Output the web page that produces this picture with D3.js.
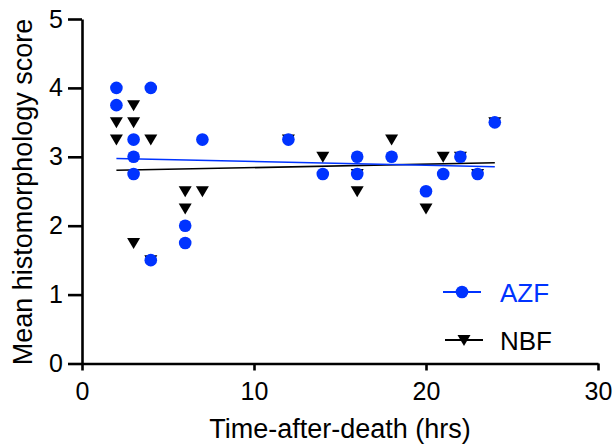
<!DOCTYPE html>
<html>
<head>
<meta charset="utf-8">
<script src="https://cdn.jsdelivr.net/npm/d3@7"></script>
<style>
  body { margin: 0; background: #fff; }
  svg { font-family: "Liberation Sans", Arial, sans-serif; }
</style>
</head>
<body>
<svg id="chart" width="614" height="446"></svg>
<script>
// Time after death (hrs) and mean score for each sample
const azfHours = [2, 2, 3, 3, 3, 4, 4, 6, 6, 7, 12, 14, 16, 16, 18, 20, 21, 22, 23, 24];
const azfScore = [4, 3.75, 3.25, 3, 2.75, 4, 1.5, 2, 1.75, 3.25, 3.25, 2.75, 3, 2.75, 3, 2.5, 2.75, 3, 2.75, 3.5];
const nbfHours = [2, 2, 3, 3, 3, 4, 4, 6, 6, 7, 12, 14, 16, 16, 18, 20, 21, 22, 23, 24];
const nbfScore = [3.5, 3.25, 3.75, 3.5, 1.75, 3.25, 1.5, 2.5, 2.25, 2.5, 3.25, 3, 2.75, 2.5, 3.25, 2.25, 3, 3, 2.75, 3.5];
const xTicks = [0, 10, 20, 30];
const yTicks = [0, 1, 2, 3, 4, 5];
const seriesNames = ["AZF", "NBF"];

const blue = "#0033ff";

const svg = d3.select("#chart");
const x = d3.scaleLinear().domain([0, 30]).range([82, 598]);
const y = d3.scaleLinear().domain([0, 5]).range([363.5, 19]);

// least squares fit, returns [slope, intercept]
function fit(xs, ys) {
  const mx = d3.mean(xs), my = d3.mean(ys);
  let num = 0, den = 0;
  xs.forEach((v, i) => {
    num += (v - mx) * (ys[i] - my);
    den += (v - mx) * (v - mx);
  });
  const m = num / den;
  return [m, my - m * mx];
}

// regression lines
[[nbfHours, nbfScore, "#000"], [azfHours, azfScore, blue]].forEach(([xs, ys, col]) => {
  const [m, b] = fit(xs, ys);
  const x0 = d3.min(xs), x1 = d3.max(xs);
  svg.append("line")
    .attr("x1", x(x0)).attr("y1", y(m * x0 + b))
    .attr("x2", x(x1)).attr("y2", y(m * x1 + b))
    .attr("stroke", col)
    .attr("stroke-width", 1.6);
});

const triPath = "M-6.5,-5L6.5,-5L0,6Z";

// NBF triangles
svg.append("g").selectAll("path")
  .data(nbfHours.map((h, i) => [h, nbfScore[i]]))
  .enter().append("path")
  .attr("d", triPath)
  .attr("transform", d => `translate(${x(d[0])},${y(d[1])})`)
  .attr("fill", "#000");

// AZF circles
svg.append("g").selectAll("circle")
  .data(azfHours.map((h, i) => [h, azfScore[i]]))
  .enter().append("circle")
  .attr("cx", d => x(d[0]))
  .attr("cy", d => y(d[1]))
  .attr("r", 6.3)
  .attr("fill", blue);

// axes
const xAxis = svg.append("g")
  .attr("transform", `translate(0,${y(0)})`)
  .call(d3.axisBottom(x).tickValues(xTicks).tickSize(7).tickSizeOuter(0).tickPadding(12));

const yAxis = svg.append("g")
  .attr("transform", `translate(${x(0)},0)`)
  .call(d3.axisLeft(y).tickValues(yTicks).tickFormat(d3.format("d"))
    .tickSize(14).tickSizeOuter(0).tickPadding(5));

[xAxis, yAxis].forEach(g => {
  g.selectAll("path, line").attr("stroke", "#000").attr("stroke-width", 2.6);
  g.selectAll("text").attr("fill", "#000").style("font-size", "25px")
    .style("font-family", "'Liberation Sans', Arial, sans-serif");
});

// axis titles
svg.append("text")
  .attr("x", 340).attr("y", 438)
  .attr("text-anchor", "middle")
  .style("font-size", "27px")
  .text("Time-after-death (hrs)");

svg.append("text")
  .attr("transform", "translate(32,192) rotate(-90)")
  .attr("text-anchor", "middle")
  .style("font-size", "27px")
  .text("Mean histomorphology score");

// legend
const legend = svg.append("g");
const legendY = [292, 340];
const legendCol = [blue, "#000"];
seriesNames.forEach((name, i) => {
  legend.append("line")
    .attr("x1", 443 + i * 2).attr("x2", 481 + i * 2)
    .attr("y1", legendY[i]).attr("y2", legendY[i])
    .attr("stroke", legendCol[i]).attr("stroke-width", 2);
  if (i === 0) {
    legend.append("circle").attr("cx", 462).attr("cy", legendY[i]).attr("r", 6.3).attr("fill", blue);
  } else {
    legend.append("path").attr("d", triPath)
      .attr("transform", `translate(464,${legendY[i]})`).attr("fill", "#000");
  }
  legend.append("text")
    .attr("x", 500).attr("y", legendY[i] + 9.5)
    .attr("fill", legendCol[i])
    .style("font-size", "26px")
    .text(name);
});
</script>
</body>
</html>
